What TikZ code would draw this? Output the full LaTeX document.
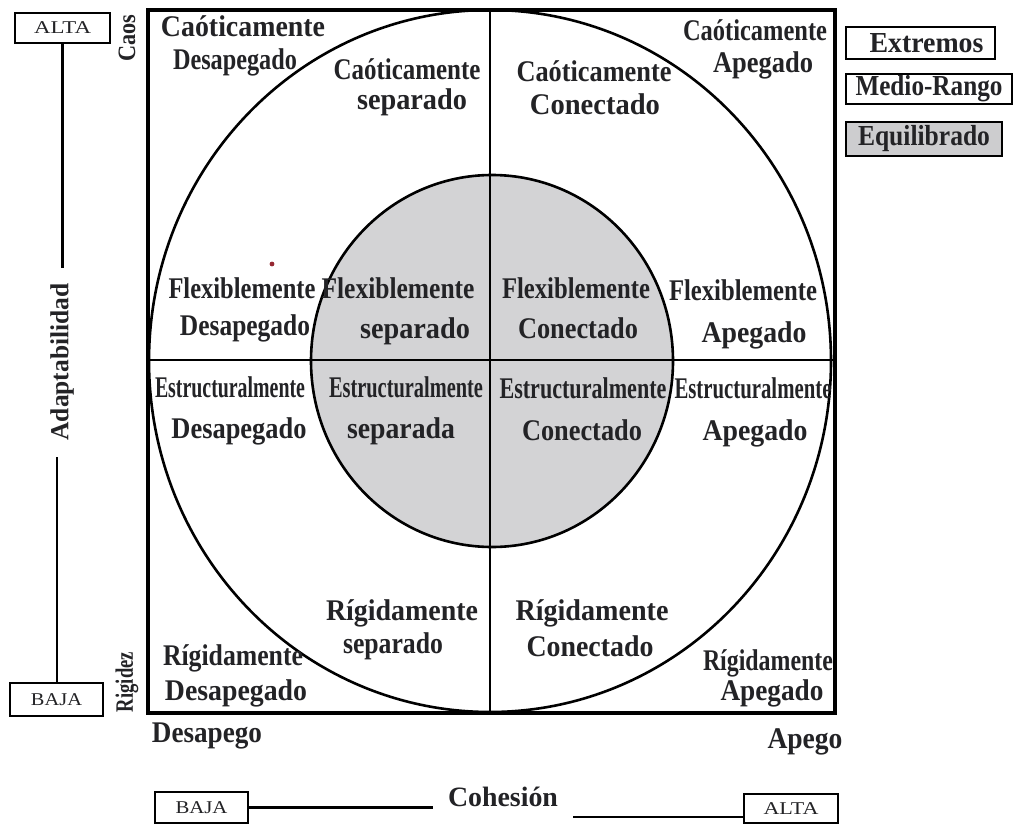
\documentclass[tikz,border=0pt]{standalone}
\usepackage{fontspec}
\usepackage{graphicx}
\setmainfont{Liberation Serif}
\newcommand\fitw[2]{\resizebox{#1pt}{\height}{#2}}
\definecolor{innergray}{RGB}{211,211,213}
\definecolor{leggray}{RGB}{205,205,207}
\definecolor{dotred}{RGB}{150,40,50}
\definecolor{ink}{RGB}{35,35,38}
\begin{document}
\begin{tikzpicture}[x=1pt,y=-1pt,
  lab/.style={inner sep=0pt, anchor=base, text=ink, font=\bfseries\fontsize{30}{33}\selectfont},
  rot/.style={inner sep=0pt, rotate=90, text=ink, font=\bfseries\fontsize{25}{28}\selectfont},
  small/.style={draw, line width=1.8pt, inner sep=0pt, text=ink, font=\fontsize{18}{21}\selectfont},
  leg/.style={draw, line width=1.8pt, inner sep=0pt, text=ink, font=\bfseries\fontsize{29}{32}\selectfont},
  conn/.style={line width=2.2pt},
  thin/.style={line width=2.6pt}]
\useasboundingbox (0,0) rectangle (1013,824);
\fill[white] (0,0) rectangle (1013,824);
% circles
\draw[thin] (490,361) ellipse [x radius=341, y radius=351];
\filldraw[thin, fill=innergray] (492,361) ellipse [x radius=181, y radius=186];
% dividers
\draw[thin] (490,10) -- (490,713);
\draw[thin] (148,360) -- (835,360);
% frame
\draw[line width=3.4pt] (148,10) rectangle (835,713);
% red dot
\fill[dotred] (272,264) circle [radius=2.4];
% labels: Caoticamente
\node[lab] (c1a) at (243,37) {\fitw{164}{Caóticamente}};
\node[lab] (c1b) at (235,70) {\fitw{124}{Desapegado}};
\node[lab] (c2a) at (407,80) {\fitw{147}{Caóticamente}};
\node[lab] (c2b) at (412,110) {\fitw{110}{separado}};
\node[lab] (c3a) at (594,82) {\fitw{155}{Caóticamente}};
\node[lab] (c3b) at (595,115) {\fitw{130}{Conectado}};
\node[lab] (c4a) at (755,41) {\fitw{144}{Caóticamente}};
\node[lab] (c4b) at (763,73) {\fitw{100}{Apegado}};
% Flexiblemente
\node[lab] (f1a) at (242,298) {\fitw{147}{Flexiblemente}};
\node[lab] (f1b) at (245,335) {\fitw{130}{Desapegado}};
\node[lab] (f2a) at (398,298) {\fitw{153}{Flexiblemente}};
\node[lab] (f2b) at (415,338) {\fitw{110}{separado}};
\node[lab] (f3a) at (576,298) {\fitw{148}{Flexiblemente}};
\node[lab] (f3b) at (578,338) {\fitw{120}{Conectado}};
\node[lab] (f4a) at (743,300) {\fitw{148}{Flexiblemente}};
\node[lab] (f4b) at (754,342) {\fitw{105}{Apegado}};
% Estructuralmente
\node[lab] (e1a) at (230,397) {\fitw{150}{Estructuralmente}};
\node[lab] (e1b) at (239,438) {\fitw{135}{Desapegado}};
\node[lab] (e2a) at (406,397) {\fitw{154}{Estructuralmente}};
\node[lab] (e2b) at (401,438) {\fitw{108}{separada}};
\node[lab] (e3a) at (583,398) {\fitw{167}{Estructuralmente}};
\node[lab] (e3b) at (582,440) {\fitw{120}{Conectado}};
\node[lab] (e4a) at (753,398) {\fitw{157}{Estructuralmente}};
\node[lab] (e4b) at (755,440) {\fitw{105}{Apegado}};
% Rigidamente
\node[lab] (r1a) at (233,665) {\fitw{140}{Rígidamente}};
\node[lab] (r1b) at (236,700) {\fitw{142}{Desapegado}};
\node[lab] (r2a) at (402,620) {\fitw{152}{Rígidamente}};
\node[lab] (r2b) at (393,653) {\fitw{100}{separado}};
\node[lab] (r3a) at (592,620) {\fitw{153}{Rígidamente}};
\node[lab] (r3b) at (590,656) {\fitw{127}{Conectado}};
\node[lab] (r4a) at (768,670) {\fitw{130}{Rígidamente}};
\node[lab] (r4b) at (772,700) {\fitw{103}{Apegado}};
% axis ends
\node[lab] (desapego) at (207,742) {\fitw{110}{Desapego}};
\node[lab] (apego) at (805,748) {\fitw{75}{Apego}};
\node[rot] (caos) at (127,38) {\fitw{47}{Caos}};
\node[rot] (rigidez) at (127,682) {\fitw{60}{Rigidez}};
\node[rot, font=\bfseries\fontsize{26}{29}\selectfont] (adapt) at (62,362) {\fitw{157}{Adaptabilidad}};
\node[lab, font=\bfseries\fontsize{28}{31}\selectfont] (cohesion) at (503,806) {\fitw{110}{Cohesión}};
% legend
\node[leg, minimum width=149pt, minimum height=32pt] (extremos) at (920.5,43) {\hspace*{12pt}\fitw{114}{Extremos}};
\node[leg, minimum width=166pt, minimum height=30pt] (medio) at (929,89) {\fitw{147}{Medio-Rango}};
\node[leg, fill=leggray, minimum width=156pt, minimum height=34pt] (equil) at (924,139) {\fitw{132}{Equilibrado}};
% small boxes
\node[small, minimum width=95pt, minimum height=30pt] (altaL) at (62.5,28) {\fitw{57}{ALTA}};
\node[small, minimum width=93pt, minimum height=33pt] (bajaL) at (56.5,699.5) {\fitw{51}{BAJA}};
\node[small, minimum width=93pt, minimum height=31pt] (bajaB) at (201.5,807.5) {\fitw{52}{BAJA}};
\node[small, minimum width=94pt, minimum height=29pt] (altaB) at (791,808.5) {\fitw{55}{ALTA}};
% connectors
\coordinate (lt) at (62.5,268);
\coordinate (lb) at (57,457);
\coordinate (cl) at (433,807.5);
\coordinate (cr) at (573,817);
\draw[conn] (altaL.south) -- (lt);
\draw[conn] (lb) -- (lb |- bajaL.north);
\draw[conn] (bajaB.east) -- (cl);
\draw[conn] (cr) -- (cr -| altaB.west);
\end{tikzpicture}
\end{document}
